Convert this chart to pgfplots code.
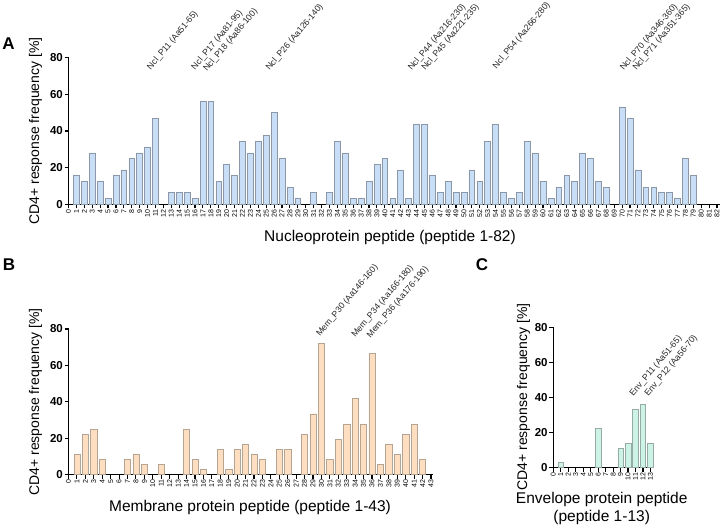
\documentclass[border=0pt]{standalone}
\usepackage{pgfplots}
\pgfplotsset{compat=1.18}
\usepackage{fontspec}
\setmainfont{Liberation Sans}

\definecolor{nclfill}{RGB}{200,221,246}
\definecolor{ncledge}{RGB}{140,152,168}
\definecolor{memfill}{RGB}{253,222,192}
\definecolor{memedge}{RGB}{182,164,146}
\definecolor{envfill}{RGB}{204,243,230}
\definecolor{envedge}{RGB}{150,172,162}

\pgfplotsset{
  pep/.style={
    scale only axis, anchor=south west,
    ybar, bar width=0.74,
    ymin=0, ymax=80, ytick={0,20,...,80},
    axis x line*=bottom, axis y line*=left,
    axis line style={line width=1.4pt},
    tick align=outside, major tick length=4pt,
    tick style={black, line width=1.1pt},
    enlargelimits=false, clip=false,
    /pgf/number format/assume math mode=true,
    yticklabel style={font=\bfseries\fontsize{11.5}{12}\selectfont, inner sep=1.5pt},
    xticklabel style={rotate=90, anchor=east, font=\fontsize{7}{7}\selectfont, inner sep=1pt},
  },
}
\tikzset{tag/.style={rotate=50, anchor=south west, font=\fontsize{8.7}{8.7}\selectfont, inner sep=0pt, text=black!85}}

\begin{document}
\begin{tikzpicture}
\path[use as bounding box] (0pt,0pt) rectangle (720pt,525pt);

% A: nucleoprotein
\begin{axis}[pep, at={(68.5pt,320.7pt)}, width=651.5pt, height=146.6pt,
  xmin=0, xmax=82.38, xtick={0,...,82}]
\addplot[fill=nclfill, draw=ncledge, line width=0.6pt] coordinates {
 (1,15.6) (2,12.5) (3,28.1) (4,12.5) (5,3.1) (6,15.6) (7,18.8) (8,25) (9,28.1) (10,31.3)
 (11,46.9) (13,6.3) (14,6.3) (15,6.3) (16,3.1) (17,56.3) (18,56.3) (19,12.5) (20,21.9)
 (21,15.6) (22,34.4) (23,28.1) (24,34.4) (25,37.5) (26,50) (27,25) (28,9.4) (29,3.1)
 (31,6.3) (33,6.3) (34,34.4) (35,28.1) (36,3.1) (37,3.1) (38,12.5) (39,21.9) (40,25)
 (41,3.1) (42,18.8) (43,3.1) (44,43.8) (45,43.8) (46,15.6) (47,6.3) (48,12.5) (49,6.3)
 (50,6.3) (51,18.8) (52,12.5) (53,34.4) (54,43.8) (55,6.3) (56,3.1) (57,6.3) (58,34.4)
 (59,28.1) (60,12.5) (61,3.1) (62,9.4) (63,15.6) (64,12.5) (65,28.1) (66,25) (67,12.5)
 (68,9.4) (70,53.1) (71,46.9) (72,18.8) (73,9.4) (74,9.4) (75,6.3) (76,6.3) (77,3.1)
 (78,25) (79,15.6)
};
\node[tag] at (axis cs:10.6,72.5) {Ncl\_P11 (Aa51-65)};
\node[tag] at (axis cs:16.2,72.5) {Ncl\_P17 (Aa81-95)};
\node[tag] at (axis cs:17.7,71.5) {Ncl\_P18 (Aa86-100)};
\node[tag] at (axis cs:25.6,72) {Ncl\_P26 (Aa126-140)};
\node[tag] at (axis cs:43.6,72) {Ncl\_P44 (Aa216-230)};
\node[tag] at (axis cs:45.3,72) {Ncl\_P45 (Aa221-235)};
\node[tag] at (axis cs:54.3,73) {Ncl\_P54 (Aa266-280)};
\node[tag] at (axis cs:70.4,72) {Ncl\_P70 (Aa346-360)};
\node[tag] at (axis cs:72,72) {Ncl\_P71 (Aa351-365)};
\end{axis}

% B: membrane
\begin{axis}[pep, at={(68.5pt,50.5pt)}, width=364.2pt, height=145.5pt,
  xmin=0, xmax=43.2, xtick={0,...,43}]
\addplot[fill=memfill, draw=memedge, line width=0.6pt] coordinates {
 (1,11.1) (2,22.2) (3,25.0) (4,8.3) (7,8.3) (8,11.1) (9,5.6) (11,5.6) (14,25.0) (15,8.3)
 (16,2.8) (18,13.9) (19,2.8) (20,13.9) (21,16.7) (22,11.1) (23,8.3) (25,13.9) (26,13.9)
 (28,22.2) (29,33.3) (30,72.2) (31,8.3) (32,19.4) (33,27.8) (34,41.7) (35,27.8) (36,66.7)
 (37,5.6) (38,16.7) (39,11.1) (40,22.2) (41,27.8) (42,8.3)
};
\node[tag] at (axis cs:30,75) {Mem\_P30 (Aa146-160)};
\node[tag] at (axis cs:34.2,74.5) {Mem\_P34 (Aa166-180)};
\node[tag] at (axis cs:36,74) {Mem\_P36 (Aa176-190)};
\end{axis}

% C: envelope
\begin{axis}[pep, at={(553.3pt,57.3pt)}, width=99.4pt, height=140.4pt,
  xmin=0, xmax=13.3, xtick={0,...,13}]
\addplot[fill=envfill, draw=envedge, line width=0.6pt] coordinates {
 (1,2.8) (6,22.2) (9,11.1) (10,13.9) (11,33.3) (12,36.1) (13,13.9)
};
\node[tag] at (axis cs:10.9,39.7) {Env\_P11 (Aa51-65)};
\node[tag] at (axis cs:12.9,39.7) {Env\_P12 (Aa56-70)};
\end{axis}

% panel letters
\node[font=\bfseries\fontsize{17}{17}\selectfont] at (8.5pt,481.7pt) {A};
\node[font=\bfseries\fontsize{17}{17}\selectfont] at (9pt,260pt) {B};
\node[font=\bfseries\fontsize{17}{17}\selectfont] at (482pt,260pt) {C};

% axis titles
\node[rotate=90, font=\fontsize{14}{15}\selectfont] at (35.5pt,394pt) {CD4+ response frequency [\%]};
\node[rotate=90, font=\fontsize{14}{15}\selectfont] at (35.5pt,123pt) {CD4+ response frequency [\%]};
\node[rotate=90, font=\fontsize{14}{15}\selectfont] at (523.5pt,128pt) {CD4+ response frequency [\%]};
\node[font=\fontsize{15.5}{16}\selectfont] at (390pt,287.5pt) {Nucleoprotein peptide (peptide 1-82)};
\node[font=\fontsize{15.5}{16}\selectfont] at (250pt,17.5pt) {Membrane protein peptide (peptide 1-43)};
\node[font=\fontsize{15.5}{17.5}\selectfont, align=center] at (601.7pt,16.5pt) {Envelope protein peptide\\(peptide 1-13)};
\end{tikzpicture}
\end{document}
